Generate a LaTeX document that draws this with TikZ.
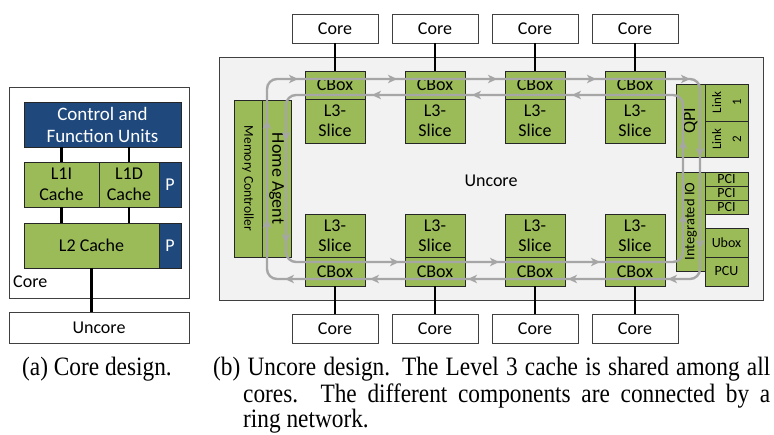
\documentclass[tikz,border=0pt]{standalone}
\usepackage{fontspec}
\setmainfont{Carlito}
\newfontfamily\capfont[FakeStretch=0.88]{Liberation Serif}
\usetikzlibrary{arrows.meta}

\definecolor{boxgreen}{HTML}{9BBB59}
\definecolor{boxblue}{HTML}{1F497D}
\definecolor{ringgray}{HTML}{A6A6A6}
\definecolor{uncorebg}{HTML}{F2F2F2}
\definecolor{edgegray}{HTML}{404040}

\tikzset{
  basebox/.style={inner sep=0pt, outer sep=0pt, align=center, line width=0.9pt},
  gbox/.style={basebox, draw=black!85, fill=boxgreen, font=\fontsize{18}{20}\selectfont},
  bbox/.style={basebox, draw=black!85, fill=boxblue, text=white, font=\fontsize{19}{22}\selectfont},
  wbox/.style={basebox, draw=edgegray, fill=white, font=\fontsize{18}{20}\selectfont},
  conn/.style={line width=2.3pt, black},
  ring/.style={line width=2.4pt, ringgray},
  ringtip/.style={ring, -{Stealth[length=9pt, width=8.5pt, inset=2.5pt]}},
  sz/.style 2 args={minimum width=#1pt, minimum height=#2pt},
  captext/.style={anchor=base west, inner sep=0pt, font=\capfont\fontsize{26.5}{27}\selectfont},
}

\begin{document}
\begin{tikzpicture}[x=1pt, y=-1pt]
\useasboundingbox (0,0) rectangle (774,435);

% ---------- core design ----------
\node[wbox, sz={180}{211}] (corebox) at (99,192.5) {};
\node[bbox, sz={157}{45}] (ctrl) at (102.5,124.5) {Control and\\Function Units};
\node[gbox, sz={75}{45}, font=\fontsize{18}{21}\selectfont] (l1i) at (61.5,184.5) {L1I\\Cache};
\node[gbox, sz={60}{45}, font=\fontsize{18}{21}\selectfont] (l1d) at (129,184.5) {L1D\\Cache};
\node[bbox, sz={22}{45}, font=\fontsize{18}{20}\selectfont] (p1) at (170,184.5) {P};
\node[gbox, sz={135}{45}] (l2) at (91.5,245.5) {L2 Cache};
\node[bbox, sz={22}{45}, font=\fontsize{18}{20}\selectfont] (p2) at (170,245.5) {P};
\node[anchor=west, inner sep=0pt, font=\fontsize{18}{20}\selectfont] (corelabel) at (13,282) {Core};
\node[wbox, sz={180}{31}] (unc) at (99,327.5) {Uncore};

\draw[conn] (l1i.north |- ctrl.south) -- (l1i.north);
\draw[conn] (l1d.north |- ctrl.south) -- (l1d.north);
\draw[conn] (l1i.south) -- (l1i.south |- l2.north);
\draw[conn] (l1d.south) -- (l1d.south |- l2.north);
\draw[conn] (l2.south) -- (l2.south |- unc.north);

% ---------- uncore design ----------
\node[basebox, draw=edgegray, fill=uncorebg, sz={544}{243}] (bg) at (491,178.5) {};
\node[font=\fontsize{18}{20}\selectfont, inner sep=0pt] (unclabel) at (491,181) {Uncore};

\foreach \k in {0,1,2,3} {
  \pgfmathsetmacro{\cx}{335+100*\k}
  \node[wbox, sz={86}{29}] (tcore\k) at (\cx,28.5) {Core};
  \node[gbox, sz={60}{28}] (tcbox\k) at (\cx,85) {CBox};
  \node[gbox, sz={60}{44}] (tl3\k) at (\cx,121) {L3-\\Slice};
  \node[gbox, sz={60}{43}] (bl3\k) at (\cx,235.5) {L3-\\Slice};
  \node[gbox, sz={60}{29}] (bcbox\k) at (\cx,271.5) {CBox};
  \node[wbox, sz={86}{29}] (bcore\k) at (\cx,328.5) {Core};
  \draw[conn] (tcore\k.south) -- (tcbox\k.north);
  \draw[conn] (bcbox\k.south) -- (bcore\k.north);
}

% memory side
\node[gbox, sz={157}{28}, rotate=-90, font=\fontsize{13.5}{15}\selectfont] (mc) at (248,178.5) {Memory Controller};
\node[gbox, sz={157}{29}, rotate=-90] (ha) at (276.5,178.5) {Home Agent};

% I/O side
\node[gbox, sz={73}{29}, rotate=90] (qpi) at (690.5,120.5) {QPI};
\node[gbox, sz={37}{43}, rotate=90, font=\fontsize{13}{20}\selectfont] (link1) at (726.5,102.5) {Link\\1};
\node[gbox, sz={36}{43}, rotate=90, font=\fontsize{13}{20}\selectfont] (link2) at (726.5,139) {Link\\2};
\node[gbox, sz={99}{29}, rotate=90, font=\fontsize{14.5}{16}\selectfont] (iio) at (690.5,221.5) {Integrated IO};
\node[gbox, sz={43}{14}, font=\fontsize{14}{14}\selectfont] (pci1) at (726.5,179) {PCI};
\node[gbox, sz={43}{14}, font=\fontsize{14}{14}\selectfont] (pci2) at (726.5,193) {PCI};
\node[gbox, sz={43}{14}, font=\fontsize{14}{14}\selectfont] (pci3) at (726.5,207) {PCI};
\node[gbox, sz={43}{29}, font=\fontsize{14}{16}\selectfont] (ubox) at (726.5,242.5) {Ubox};
\node[gbox, sz={43}{29}, font=\fontsize{14}{16}\selectfont] (pcu) at (726.5,271.5) {PCU};

% ---------- ring network ----------
\coordinate (outerNW) at (267,79);
\coordinate (outerSE) at (700,279);
\coordinate (innerNW) at (286,95);
\coordinate (innerSE) at (683,262);
\draw[ring, rounded corners=10pt] (outerNW) rectangle (outerSE);
\draw[ring, rounded corners=10pt] (innerNW) rectangle (innerSE);

% outer ring runs clockwise
\foreach \x in {298,397,497,596,690} \draw[ringtip] ({\x-5},79) -- (\x,79);
\foreach \y in {157,249} \draw[ringtip] (700,{\y-5}) -- (700,\y);
\foreach \x in {668,568,468,370,285} \draw[ringtip] ({\x+5},279) -- (\x,279);
\foreach \y in {219,120} \draw[ringtip] (267,{\y+5}) -- (267,\y);

% inner ring runs counter-clockwise
\foreach \x in {372,472,572} \draw[ringtip] ({\x+5},95) -- (\x,95);
\foreach \y in {141,243} \draw[ringtip] (286,{\y-5}) -- (286,\y);
\foreach \x in {399,499,600} \draw[ringtip] ({\x-5},262) -- (\x,262);
\foreach \y in {214,140} \draw[ringtip] (683,{\y+5}) -- (683,\y);

% ---------- captions ----------
\node[captext] (capa) at (22,376) {(a) Core design.};
\node[captext] (capb1) at (213,376) {\makebox[557pt][s]{(b) Uncore design. The Level 3 cache is shared among all}};
\node[captext] (capb2) at (243,403) {\makebox[527pt][s]{cores. The different components are connected by a}};
\node[captext] (capb3) at (243,428) {ring network.};
\end{tikzpicture}
\end{document}
